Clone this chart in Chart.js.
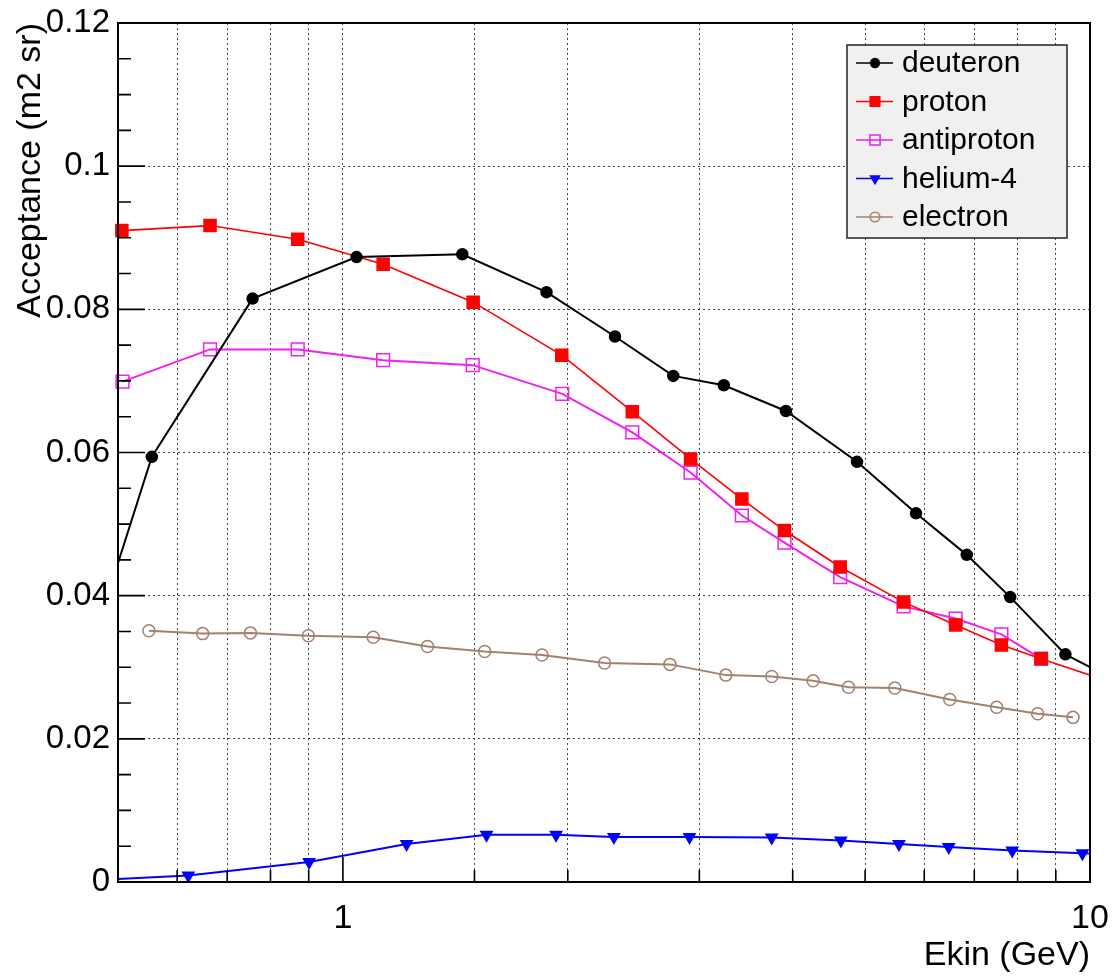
<!DOCTYPE html>
<html>
<head>
<meta charset="utf-8">
<script src="https://cdn.jsdelivr.net/npm/chart.js@4.4.1/dist/chart.umd.min.js"></script>
<style>
  html, body { margin: 0; padding: 0; background: #fff; }
</style>
</head>
<body>
<canvas id="acc" width="1112" height="976"></canvas>
<script>
// Ekin (GeV) and acceptance (m2 sr)
const deuteronE   = [0.45, 0.555, 0.757, 1.043, 1.445, 1.873, 2.313, 2.768, 3.235, 3.917, 4.877, 5.85, 6.84, 7.82, 9.27, 11.0];
const deuteronAcc = [0.0296, 0.0594, 0.0815, 0.0873, 0.0877, 0.0824, 0.0762, 0.0707, 0.0694, 0.0658, 0.0587, 0.0515, 0.0457, 0.0398, 0.0318, 0.0278];

const protonE   = [0.506, 0.664, 0.870, 1.132, 1.494, 1.963, 2.44, 2.92, 3.42, 3.90, 4.63, 5.63, 6.61, 7.61, 8.60, 10.6];
const protonAcc = [0.0910, 0.0917, 0.0898, 0.0863, 0.0810, 0.0736, 0.0657, 0.0591, 0.0535, 0.0491, 0.0440, 0.0391, 0.0359, 0.0331, 0.0312, 0.0280];

const antiprotonE   = [0.507, 0.664, 0.870, 1.132, 1.492, 1.966, 2.44, 2.92, 3.42, 3.90, 4.63, 5.63, 6.61, 7.61, 8.60];
const antiprotonAcc = [0.0699, 0.0744, 0.0744, 0.0729, 0.0722, 0.0682, 0.0628, 0.0572, 0.0512, 0.0474, 0.0426, 0.0385, 0.0368, 0.0346, 0.0312];

const heliumE   = [0.45, 0.621, 0.901, 1.217, 1.557, 1.929, 2.305, 2.91, 3.75, 4.64, 5.55, 6.47, 7.87, 9.77, 11.5];
const heliumAcc = [0.0002, 0.0009, 0.0028, 0.0053, 0.0066, 0.0066, 0.0063, 0.0063, 0.0062, 0.0058, 0.0053, 0.0049, 0.0044, 0.0040, 0.0038];

const electronE   = [0.550, 0.649, 0.752, 0.899, 1.098, 1.298, 1.548, 1.847, 2.24, 2.74, 3.255, 3.75, 4.26, 4.75, 5.48, 6.49, 7.50, 8.51, 9.49];
const electronAcc = [0.0351, 0.0347, 0.0348, 0.0344, 0.0342, 0.0329, 0.0322, 0.0317, 0.0306, 0.0304, 0.0289, 0.0287, 0.0281, 0.0272, 0.0271, 0.0255, 0.0244, 0.0235, 0.0230];

const FONT = "'Liberation Sans', Arial, Helvetica, sans-serif";
const xLabels = { 1: '1', 10: '10' };

const pts = (xs, ys) => xs.map((x, i) => ({ x: x, y: ys[i] }));
const isMajorY = v => Math.abs(v * 50 - Math.round(v * 50)) < 1e-6;
const isMajorX = v => Math.abs(v - 1) < 1e-9 || Math.abs(v - 10) < 1e-9;
const noClip = { left: 0, right: 0, top: 0, bottom: 0 };

function series(label, xs, ys, color, style) {
  return Object.assign({
    label: label,
    data: pts(xs, ys),
    showLine: true,
    tension: 0,
    borderColor: color,
    borderWidth: 2,
    pointBorderColor: color,
    pointBackgroundColor: color,
    pointBorderWidth: 1.5,
    pointHoverRadius: 0,
    clip: noClip
  }, style);
}

const datasets = [
  series('deuteron', deuteronE, deuteronAcc, '#000000', { pointStyle: 'circle', pointRadius: 5.5 }),
  series('proton', protonE, protonAcc, '#ff0000', { pointStyle: 'rect', pointRadius: 8.5, borderWidth: 1.6,
    clip: { left: 10, right: 0, top: 0, bottom: 0 } }),
  series('antiproton', antiprotonE, antiprotonAcc, '#f020f0', { pointStyle: 'rect', pointRadius: 9,
    pointBackgroundColor: 'rgba(0,0,0,0)', clip: { left: 10, right: 10, top: 0, bottom: 0 } }),
  series('helium-4', heliumE, heliumAcc, '#0000ff', { pointStyle: 'triangle', pointRotation: 180, pointRadius: 6.5 }),
  series('electron', electronE, electronAcc, '#a3806f', { pointStyle: 'circle', pointRadius: 6,
    pointBackgroundColor: 'rgba(0,0,0,0)', clip: { left: 10, right: 10, top: 0, bottom: 0 } })
];

// ROOT style frame with inward ticks, plus the boxed legend
const rootFrame = {
  id: 'rootFrame',
  afterDraw(chart) {
    const { ctx, chartArea: a, scales: { x, y } } = chart;
    ctx.save();
    ctx.strokeStyle = '#000';
    ctx.lineWidth = 1.6;
    ctx.beginPath();
    x.ticks.forEach(t => {
      const px = x.getPixelForValue(t.value);
      ctx.moveTo(px, a.bottom);
      ctx.lineTo(px, a.bottom - (isMajorX(t.value) ? 25 : 12));
    });
    y.ticks.forEach(t => {
      const py = y.getPixelForValue(t.value);
      ctx.moveTo(a.left, py);
      ctx.lineTo(a.left + (isMajorY(t.value) ? 27 : 13), py);
    });
    ctx.stroke();
    ctx.lineWidth = 2;
    ctx.strokeRect(a.left, a.top, a.right - a.left, a.bottom - a.top);

    // legend
    const bx = 847, by = 45, bw = 220, bh = 193, row = 38.5;
    ctx.fillStyle = '#f0f0f0';
    ctx.fillRect(bx, by, bw, bh);
    ctx.lineWidth = 1.5;
    ctx.strokeStyle = '#222';
    ctx.strokeRect(bx, by, bw, bh);
    ctx.font = '30px ' + FONT;
    ctx.textBaseline = 'middle';
    chart.data.datasets.forEach((ds, i) => {
      const cy = by + 18 + i * row;
      ctx.strokeStyle = ds.borderColor;
      ctx.lineWidth = 1.6;
      ctx.beginPath();
      ctx.moveTo(bx + 9, cy);
      ctx.lineTo(bx + 46, cy);
      ctx.stroke();
      ctx.fillStyle = ds.pointBackgroundColor;
      ctx.strokeStyle = ds.pointBorderColor;
      ctx.lineWidth = ds.pointBorderWidth;
      Chart.helpers.drawPoint(ctx, {
        pointStyle: ds.pointStyle,
        radius: ds.pointRadius * 0.8,
        rotation: ds.pointRotation || 0,
        borderWidth: ds.pointBorderWidth
      }, bx + 28, cy);
      ctx.fillStyle = '#000';
      ctx.fillText(ds.label, bx + 55, cy + 1);
    });
    ctx.restore();
  }
};

new Chart(document.getElementById('acc'), {
  type: 'scatter',
  data: { datasets: datasets },
  options: {
    responsive: false,
    animation: false,
    layout: { padding: { top: 23, right: 22, left: 0, bottom: 0 } },
    plugins: { legend: { display: false }, tooltip: { enabled: false } },
    scales: {
      x: {
        type: 'logarithmic',
        min: 0.5,
        max: 10,
        afterFit: s => { s.height = 94; s.paddingLeft = 0; s.paddingRight = 0; },
        border: { display: false, dash: [2, 3] },
        grid: { color: '#444', lineWidth: 1, drawTicks: false },
        ticks: {
          autoSkip: false,
          maxRotation: 0,
          padding: 16,
          color: '#000',
          font: { family: FONT, size: 34 },
          callback: v => xLabels[Math.round(v * 1000) / 1000] || ''
        },
        title: {
          display: true,
          text: 'Ekin (GeV)',
          align: 'end',
          color: '#000',
          padding: { top: 0, bottom: 0 },
          font: { family: FONT, size: 34 }
        }
      },
      y: {
        min: 0,
        max: 0.12,
        afterFit: s => { s.width = 118; s.paddingTop = 0; s.paddingBottom = 0; },
        border: { display: false, dash: [2, 3] },
        grid: {
          drawTicks: false,
          lineWidth: 1,
          color: c => (c.tick && isMajorY(c.tick.value)) ? '#444' : 'rgba(0,0,0,0)'
        },
        ticks: {
          stepSize: 0.005,
          autoSkip: false,
          padding: 8,
          color: '#000',
          font: { family: FONT, size: 33 },
          callback: v => isMajorY(v) ? String(Number(v.toFixed(2))) : ''
        },
        title: {
          display: true,
          text: 'Acceptance (m2 sr)',
          align: 'end',
          color: '#000',
          padding: { top: 10, bottom: 0 },
          font: { family: FONT, size: 34 }
        }
      }
    }
  },
  plugins: [rootFrame]
});
</script>
</body>
</html>
